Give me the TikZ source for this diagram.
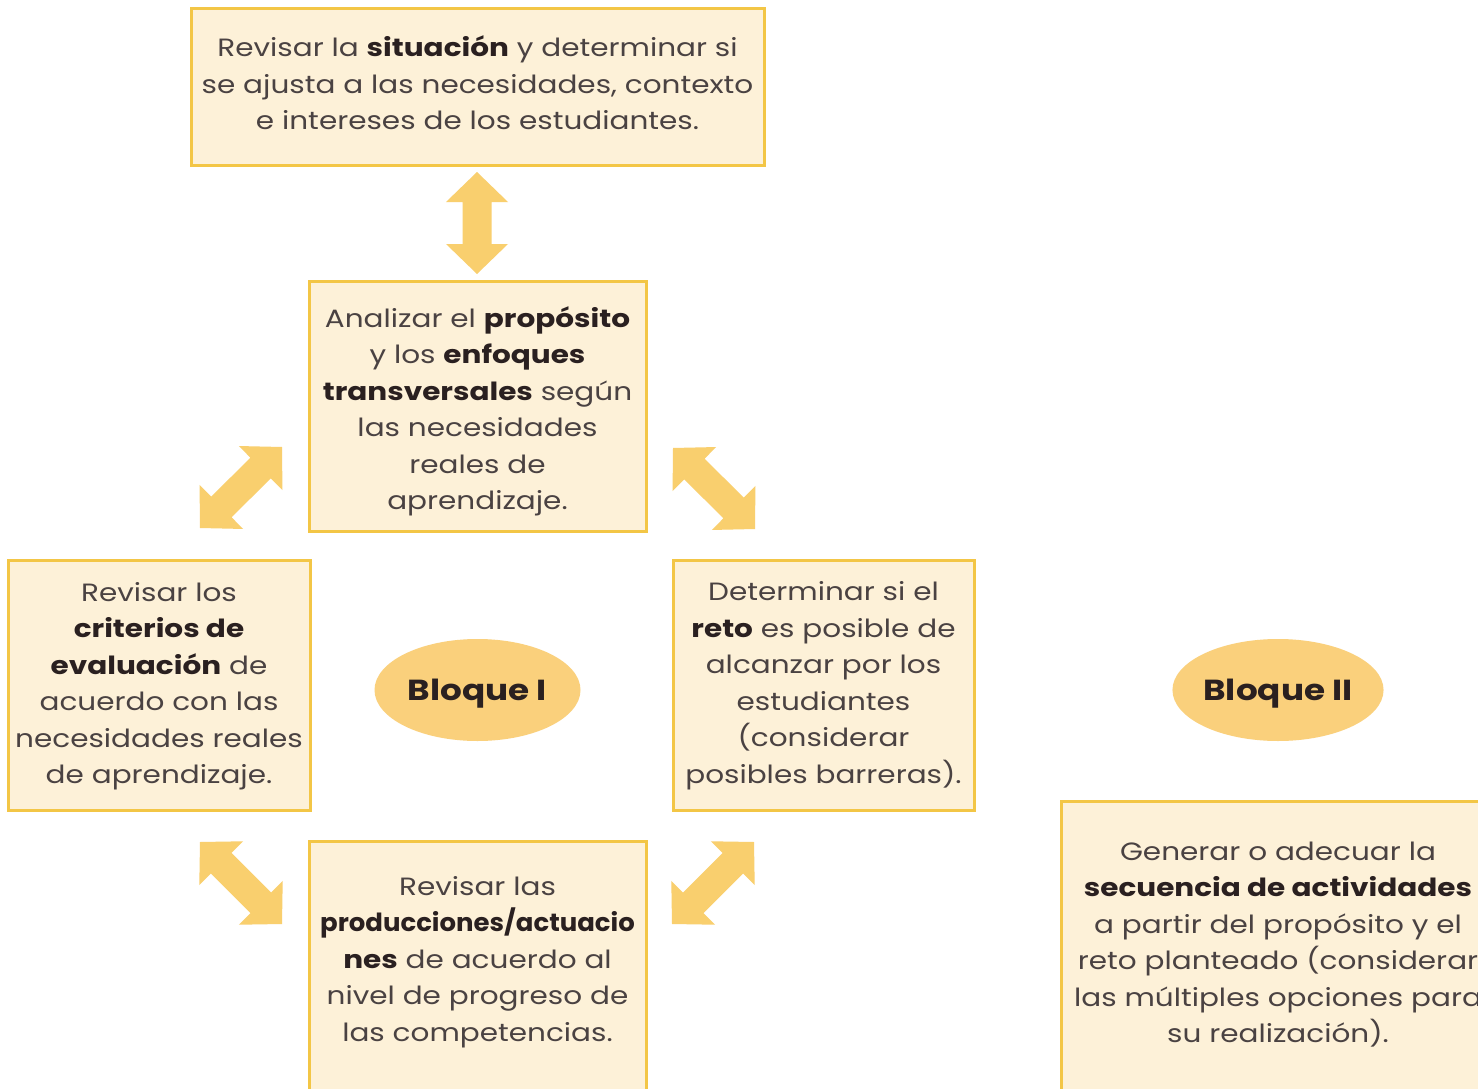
\documentclass[tikz,border=0pt]{standalone}
\usepackage{fontspec}
\setmainfont{Poppins}[FakeStretch=1.18]
\usetikzlibrary{calc,shapes.geometric}
\definecolor{boxfill}{HTML}{FDF1D8}
\definecolor{boxdraw}{HTML}{F3C646}
\definecolor{arrowc}{HTML}{F9CF6E}
\definecolor{ellc}{HTML}{FAD07C}
\definecolor{txtc}{HTML}{4A4242}
\definecolor{boldc}{HTML}{2A2020}
\newcommand{\hb}[1]{\textbf{\color{boldc}#1}}
\newcommand{\dblarr}[2]{%
  \fill[arrowc] (#1)
   -- ($(#1)!30pt!(#2)!31pt!90:(#2)$)
   -- ($(#1)!30pt!(#2)!14.5pt!90:(#2)$)
   -- ($(#2)!30pt!(#1)!14.5pt!-90:(#1)$)
   -- ($(#2)!30pt!(#1)!31pt!-90:(#1)$)
   -- (#2)
   -- ($(#2)!30pt!(#1)!31pt!90:(#1)$)
   -- ($(#2)!30pt!(#1)!14.5pt!90:(#1)$)
   -- ($(#1)!30pt!(#2)!14.5pt!-90:(#2)$)
   -- ($(#1)!30pt!(#2)!31pt!-90:(#2)$)
   -- cycle;}
\tikzset{
  box/.style={draw=boxdraw, fill=boxfill, line width=3pt, inner sep=0pt},
  txt/.style={inner sep=0pt, align=center, text=txtc, font=\fontsize{25}{36.5}\selectfont},
  blq/.style={ellipse, fill=ellc, inner sep=0pt, minimum width=206pt, minimum height=102pt,
    text height=20pt, text depth=0pt,
    text=boldc, font=\fontsize{29}{34}\selectfont\bfseries}
}
\begin{document}
\begin{tikzpicture}[x=1pt,y=-1pt]
\useasboundingbox (0,0) rectangle (1478,1089);
\clip (0,0) rectangle (1478,1089);
\fill[white] (0,0) rectangle (1478,1089);

\node[box, minimum width=573pt, minimum height=157pt] (sit) at (477.5,87.5) {};
\node[txt] (sitT) at (477.5,86)
  {\strut Revisar la \hb{situación} y determinar si\\se ajusta a las necesidades, contexto\\e intereses de los estudiantes.\strut};
\node[box, minimum width=337pt, minimum height=250pt] (prop) at (477.5,406) {};
\node[txt] (propT) at (477.5,411)
  {\strut Analizar el \hb{propósito}\\y los \hb{enfoques}\\\hb{transversales} según\\las necesidades\\reales de\\aprendizaje.\strut};
\node[box, minimum width=302pt, minimum height=250pt] (crit) at (159,685) {};
\node[txt] (critT) at (159,685)
  {\strut Revisar los\\\hb{criterios de}\\\hb{evaluación} de\\acuerdo con las\\necesidades reales\\de aprendizaje.\strut};
\node[box, minimum width=301pt, minimum height=250pt] (reto) at (823.5,685) {};
\node[txt] (retoT) at (823.5,684.5)
  {\strut Determinar si el\\\hb{reto} es posible de\\alcanzar por los\\estudiantes\\(considerar\\posibles barreras).\strut};
\node[box, minimum width=337pt, minimum height=260pt] (prod) at (477.5,971) {};
\node[txt] (prodT) at (477.5,961)
  {\strut Revisar las\\\scalebox{0.88}[1]{\hb{producciones/actuacio}}\\\hb{nes} de acuerdo al\\nivel de progreso de\\las competencias.\strut};
\node[box, minimum width=434pt, minimum height=300pt] (sec) at (1278,951) {};
\node[txt] (secT) at (1278,944)
  {\strut Generar o adecuar la\\\hb{secuencia de actividades}\\a partir del propósito y el\\reto planteado (considerar\\las múltiples opciones para\\su realización).\strut};

\node[blq] (b1) at (477.5,690) {Bloque I};
\node[blq] (b2) at (1278,690) {Bloque II};

\coordinate (v1) at (477,172);
\coordinate (v2) at (477,274);
\coordinate (ul1) at (200,528);
\coordinate (ul2) at (282,447);
\coordinate (ur1) at (673,448);
\coordinate (ur2) at (755,529);
\coordinate (ll1) at (200,842);
\coordinate (ll2) at (282,924);
\coordinate (lr1) at (754,842);
\coordinate (lr2) at (672,924);
\dblarr{v1}{v2}
\dblarr{ul1}{ul2}
\dblarr{ur1}{ur2}
\dblarr{ll1}{ll2}
\dblarr{lr1}{lr2}
\end{tikzpicture}
\end{document}
